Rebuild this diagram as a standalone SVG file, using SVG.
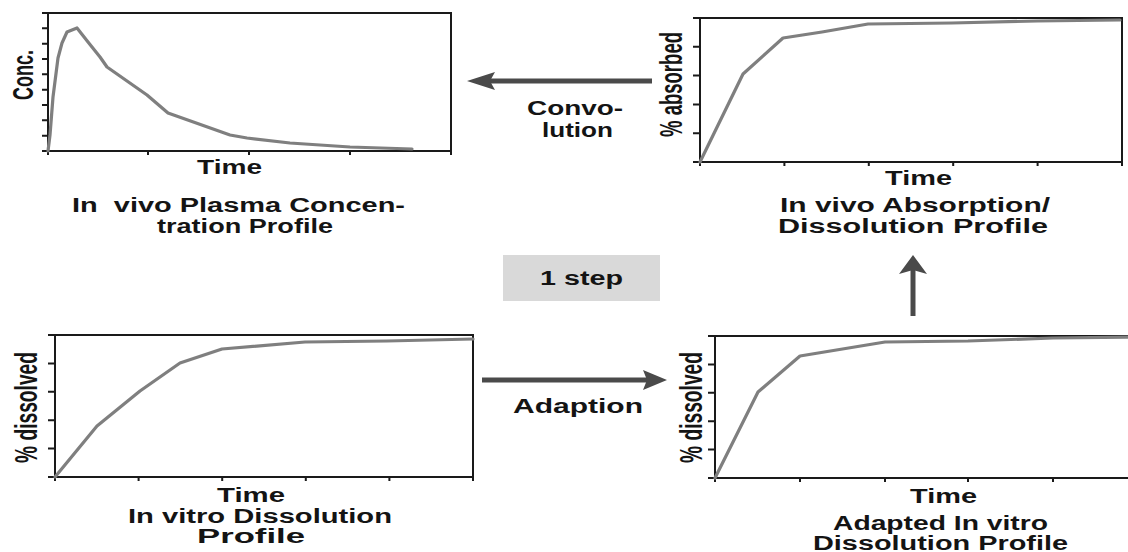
<svg xmlns="http://www.w3.org/2000/svg" width="1128" height="552" viewBox="0 0 1128 552">
<style>
.ax{fill:none;stroke:#1a1a1a;stroke-width:2;}
.tk{stroke:#1a1a1a;stroke-width:2;}
.cv{fill:none;stroke:#7f7f7f;stroke-width:3.2;stroke-linejoin:round;stroke-linecap:round;}
.t{font-family:"Liberation Sans",Arial,sans-serif;font-weight:bold;font-size:20px;fill:#141414;}
.yl{font-family:"Liberation Sans",Arial,sans-serif;font-weight:bold;font-size:18px;fill:#141414;text-anchor:middle;}
.ln{stroke:#4a4a4a;stroke-width:5;fill:none;}
.ah{fill:#4a4a4a;}
</style>
<rect width="1128" height="552" fill="#ffffff"/>

<g id="plasma-plot">
<rect class="ax" x="48" y="13" width="403" height="138"/>
<path class="tk" d="M42,13H48M42,28.3H48M42,43.7H48M42,59H48M42,74.3H48M42,89.7H48M42,105H48M42,120.3H48M42,135.7H48M42,151H48M48,151V155M148,151V155M249,151V155M350,151V155M451,151V155"/>
<polyline class="cv" points="48,151 50,135 53,97 58,58 62,43 67,32 77,28 88,42 100,57 107,67 147,95 168,113 230,135 247,138 290,143 350,147 412,149"/>
<text class="yl" transform="translate(33,75) scale(1.65,1) rotate(-90)" textLength="50" lengthAdjust="spacingAndGlyphs">Conc.</text>
<text class="t" x="197" y="174" textLength="65" lengthAdjust="spacingAndGlyphs">Time</text>
<text class="t" x="72" y="212" textLength="333" lengthAdjust="spacingAndGlyphs">In&#160; vivo Plasma Concen-</text>
<text class="t" x="157" y="233" textLength="176" lengthAdjust="spacingAndGlyphs">tration Profile</text>
</g>

<g id="absorption-plot">
<rect class="ax" x="700" y="18" width="422" height="144"/>
<path class="tk" d="M693,18H700M693,46.8H700M693,75.6H700M693,104.4H700M693,133.2H700M693,162H700M700,162V166M784.4,162V166M868.8,162V166M953.2,162V166M1037.6,162V166M1122,162V166"/>
<polyline class="cv" points="700,162 743,74 783,38 822,32 868,24 952,23 1037,21 1120,20"/>
<text class="yl" transform="translate(682,84.5) scale(1.7,1) rotate(-90)" textLength="105" lengthAdjust="spacingAndGlyphs">% absorbed</text>
<text class="t" x="885" y="185" textLength="67" lengthAdjust="spacingAndGlyphs">Time</text>
<text class="t" x="780" y="212" textLength="270" lengthAdjust="spacingAndGlyphs">In vivo Absorption/</text>
<text class="t" x="778" y="233" textLength="270" lengthAdjust="spacingAndGlyphs">Dissolution Profile</text>
</g>

<g id="invitro-plot">
<rect class="ax" x="55" y="335" width="418" height="142"/>
<path class="tk" d="M48,335H55M48,363.4H55M48,391.8H55M48,420.2H55M48,448.6H55M48,477H55M55,477V481M138.6,477V481M222.2,477V481M305.8,477V481M389.4,477V481M473,477V481"/>
<polyline class="cv" points="55,477 97,426 140,391 180,363 222,349 305,342 387,341 473,339"/>
<text class="yl" transform="translate(37,407.5) scale(1.7,1) rotate(-90)" textLength="111" lengthAdjust="spacingAndGlyphs">% dissolved</text>
<text class="t" x="217" y="502" textLength="68" lengthAdjust="spacingAndGlyphs">Time</text>
<text class="t" x="128" y="523" textLength="264" lengthAdjust="spacingAndGlyphs">In vitro Dissolution</text>
<text class="t" x="197" y="543" textLength="108" lengthAdjust="spacingAndGlyphs">Profile</text>
</g>

<g id="adapted-plot">
<rect class="ax" x="715" y="336" width="425" height="142"/>
<path class="tk" d="M708,336H715M708,364.4H715M708,392.8H715M708,421.2H715M708,449.6H715M708,478H715M715,478V482M800,478V482M885,478V482M968,478V482M1053,478V482"/>
<polyline class="cv" points="715,478 758,392 800,356 885,342 968,341 1053,338 1130,337"/>
<text class="yl" transform="translate(702,407.5) scale(1.7,1) rotate(-90)" textLength="111" lengthAdjust="spacingAndGlyphs">% dissolved</text>
<text class="t" x="910" y="503" textLength="67" lengthAdjust="spacingAndGlyphs">Time</text>
<text class="t" x="833" y="530" textLength="215" lengthAdjust="spacingAndGlyphs">Adapted In vitro</text>
<text class="t" x="813" y="550" textLength="255" lengthAdjust="spacingAndGlyphs">Dissolution Profile</text>
</g>

<g id="one-step">
<rect x="503" y="255" width="157" height="46" fill="#d9d9d9"/>
<text class="t" x="540" y="285" textLength="83" lengthAdjust="spacingAndGlyphs">1 step</text>
</g>

<g id="connectors">
<line class="ln" x1="652" y1="81" x2="490" y2="81"/>
<path class="ah" d="M467,81 L495,72 L490,81 L495,90 Z"/>
<text class="t" x="527" y="115" textLength="96" lengthAdjust="spacingAndGlyphs">Convo-</text>
<text class="t" x="542" y="137" textLength="71" lengthAdjust="spacingAndGlyphs">lution</text>

<line class="ln" x1="482" y1="380" x2="648" y2="380"/>
<path class="ah" d="M667,380 L643,370 L647,380 L643,390 Z"/>
<text class="t" x="513" y="413" textLength="130" lengthAdjust="spacingAndGlyphs">Adaption</text>

<line class="ln" x1="913" y1="316" x2="913" y2="270"/>
<path class="ah" d="M913,255 L899,274 L913,270 L927,274 Z"/>
</g>
</svg>
